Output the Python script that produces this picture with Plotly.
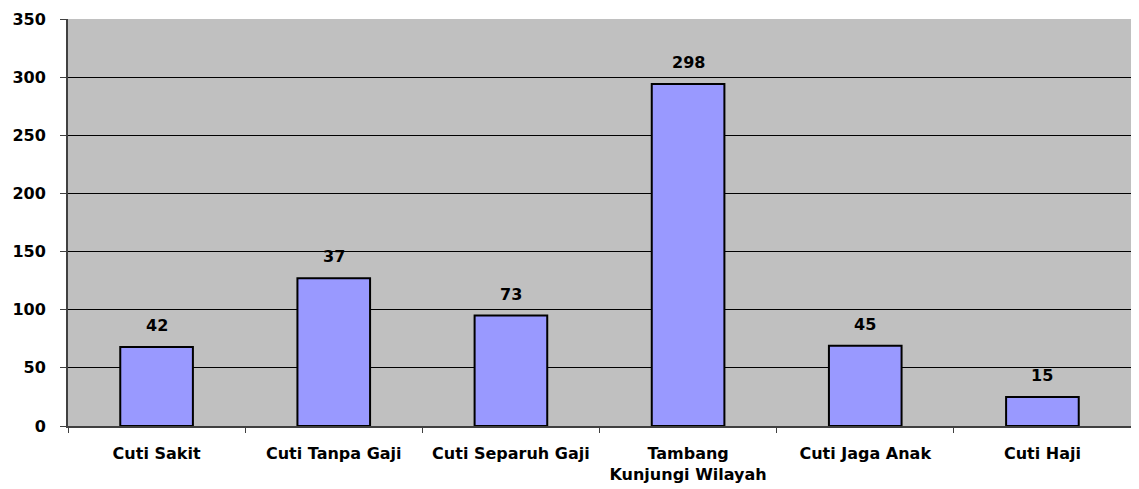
import plotly.graph_objects as go

categories = ["Cuti Sakit", "Cuti Tanpa Gaji", "Cuti Separuh Gaji",
              "Tambang<br>Kunjungi Wilayah", "Cuti Jaga Anak", "Cuti Haji"]
bar_values = [68, 127, 95, 294, 69, 25]
label_texts = ["42", "37", "73", "298", "45", "15"]
y_ticks = [0, 50, 100, 150, 200, 250, 300, 350]

FONT = "DejaVu Sans"
FS = 16

fig = go.Figure()
fig.add_trace(go.Bar(
    x=categories, y=bar_values,
    marker=dict(color="#9999ff", line=dict(color="black", width=2)),
    width=0.41,
    hoverinfo="skip",
))

for c, v, t in zip(categories, bar_values, label_texts):
    fig.add_annotation(x=c, y=v, text="<b>%s</b>" % t, showarrow=False,
                       yanchor="bottom", yshift=10,
                       font=dict(family=FONT, size=FS, color="black"))

fig.update_layout(
    width=1131, height=481,
    margin=dict(l=60, r=8, t=11, b=63, autoexpand=False),
    paper_bgcolor="white", plot_bgcolor="#c0c0c0",
    showlegend=False,
    font=dict(family=FONT, size=FS, color="black"),
)
fig.update_xaxes(
    tickfont=dict(family=FONT, size=FS, color="black"),
    ticks="outside", tickson="boundaries", ticklen=5, tickcolor="#404040",
    showline=True, linecolor="#404040", linewidth=2,
    showgrid=False, automargin=False,
    tickprefix="<b>", ticksuffix="</b>",
    ticklabelstandoff=12,
)
fig.update_yaxes(
    range=[0, 350], tickvals=y_ticks,
    ticktext=["<b>%d</b>" % v for v in y_ticks],
    tickfont=dict(family=FONT, size=FS, color="black"),
    ticks="outside", ticklen=6, tickcolor="#404040",
    showline=True, linecolor="#404040", linewidth=2,
    showgrid=True, gridcolor="black", gridwidth=1,
    zeroline=False, automargin=False,
    ticklabelstandoff=11,
)

fig.write_html("out.html")
